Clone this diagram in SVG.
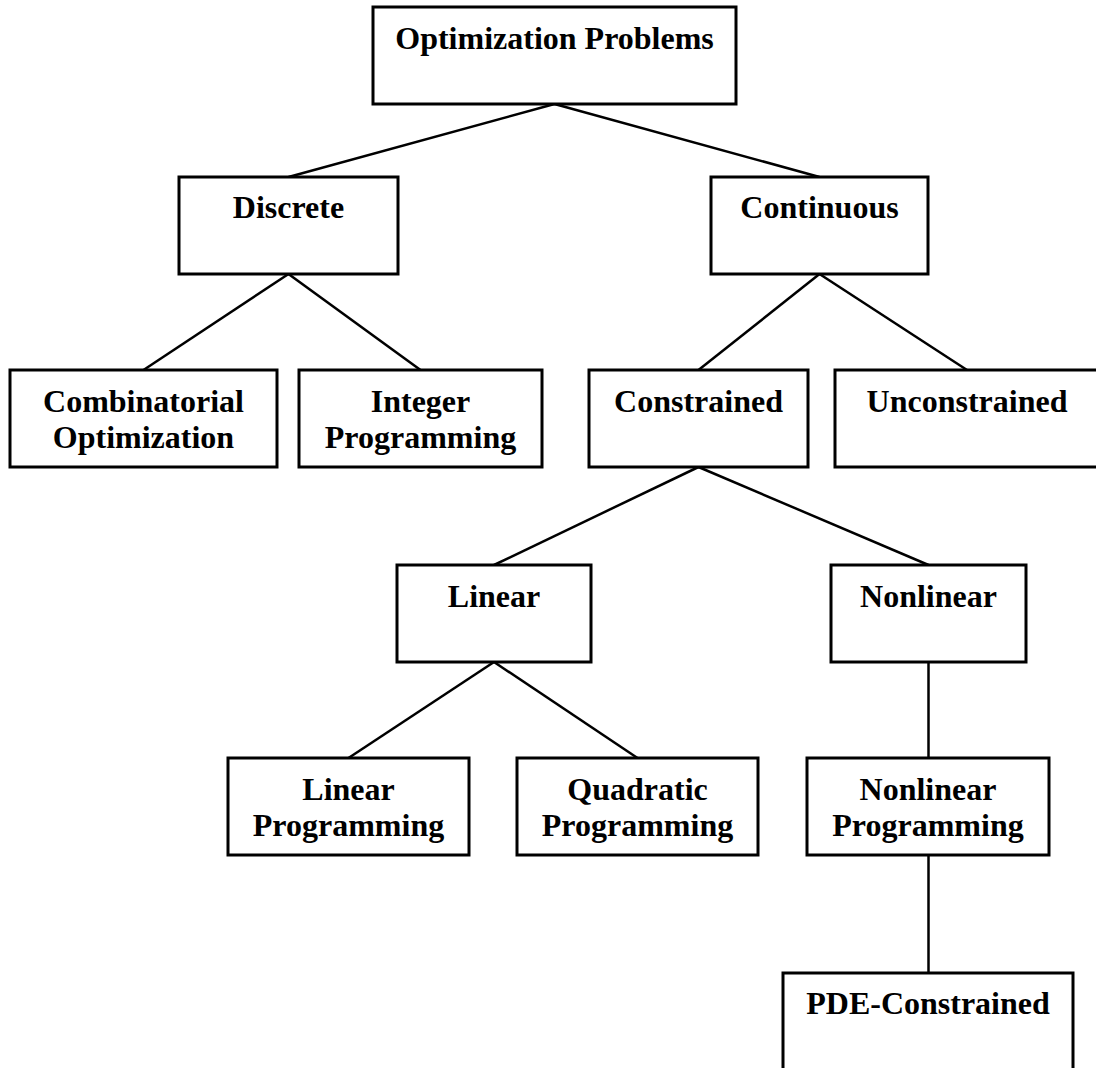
<svg xmlns="http://www.w3.org/2000/svg" width="1096" height="1068" viewBox="0 0 1096 1068">
<style>
.box{fill:#fff;stroke:#000;stroke-width:3}
.lbl{font-family:"Liberation Serif","Times New Roman",serif;font-weight:bold;font-size:32px;fill:#000;text-anchor:middle}
.edge{stroke:#000;stroke-width:2.5;fill:none}
</style>
<rect width="1096" height="1068" fill="#fff"/>
<g id="connectors">
<line class="edge" x1="554.5" y1="104" x2="288.5" y2="177"/>
<line class="edge" x1="554.5" y1="104" x2="819.5" y2="177"/>
<line class="edge" x1="288.5" y1="274" x2="143.5" y2="370"/>
<line class="edge" x1="288.5" y1="274" x2="420.5" y2="370"/>
<line class="edge" x1="819.5" y1="274" x2="698.5" y2="370"/>
<line class="edge" x1="819.5" y1="274" x2="967" y2="370"/>
<line class="edge" x1="698.5" y1="467" x2="494" y2="565"/>
<line class="edge" x1="698.5" y1="467" x2="928.5" y2="565"/>
<line class="edge" x1="494" y1="662" x2="348.5" y2="758"/>
<line class="edge" x1="494" y1="662" x2="637.5" y2="758"/>
<line class="edge" x1="928.5" y1="662" x2="928.5" y2="758"/>
<line class="edge" x1="928.5" y1="855" x2="928.5" y2="973"/>
</g>
<g id="root"><rect class="box" x="373" y="7" width="363" height="97"/><text class="lbl" x="554.5" y="49">Optimization Problems</text></g>
<g id="discrete"><rect class="box" x="179" y="177" width="219" height="97"/><text class="lbl" x="288.5" y="218">Discrete</text></g>
<g id="continuous"><rect class="box" x="711" y="177" width="217" height="97"/><text class="lbl" x="819.5" y="218">Continuous</text></g>
<g id="combinatorial"><rect class="box" x="10" y="370" width="267" height="97"/><text class="lbl" x="143.5" y="412">Combinatorial</text><text class="lbl" x="143.5" y="448">Optimization</text></g>
<g id="integer"><rect class="box" x="299" y="370" width="243" height="97"/><text class="lbl" x="420.5" y="412">Integer</text><text class="lbl" x="420.5" y="448">Programming</text></g>
<g id="constrained"><rect class="box" x="589" y="370" width="219" height="97"/><text class="lbl" x="698.5" y="412">Constrained</text></g>
<g id="unconstrained"><rect class="box" x="835" y="370" width="264" height="97"/><text class="lbl" x="967" y="412">Unconstrained</text></g>
<g id="linear"><rect class="box" x="397" y="565" width="194" height="97"/><text class="lbl" x="494" y="607">Linear</text></g>
<g id="nonlinear"><rect class="box" x="831" y="565" width="195" height="97"/><text class="lbl" x="928.5" y="607">Nonlinear</text></g>
<g id="linear-programming"><rect class="box" x="228" y="758" width="241" height="97"/><text class="lbl" x="348.5" y="800">Linear</text><text class="lbl" x="348.5" y="836">Programming</text></g>
<g id="quadratic-programming"><rect class="box" x="517" y="758" width="241" height="97"/><text class="lbl" x="637.5" y="800">Quadratic</text><text class="lbl" x="637.5" y="836">Programming</text></g>
<g id="nonlinear-programming"><rect class="box" x="807" y="758" width="242" height="97"/><text class="lbl" x="928" y="800">Nonlinear</text><text class="lbl" x="928" y="836">Programming</text></g>
<g id="pde-constrained"><rect class="box" x="783" y="973" width="290" height="97"/><text class="lbl" x="928" y="1014">PDE-Constrained</text></g>
</svg>
